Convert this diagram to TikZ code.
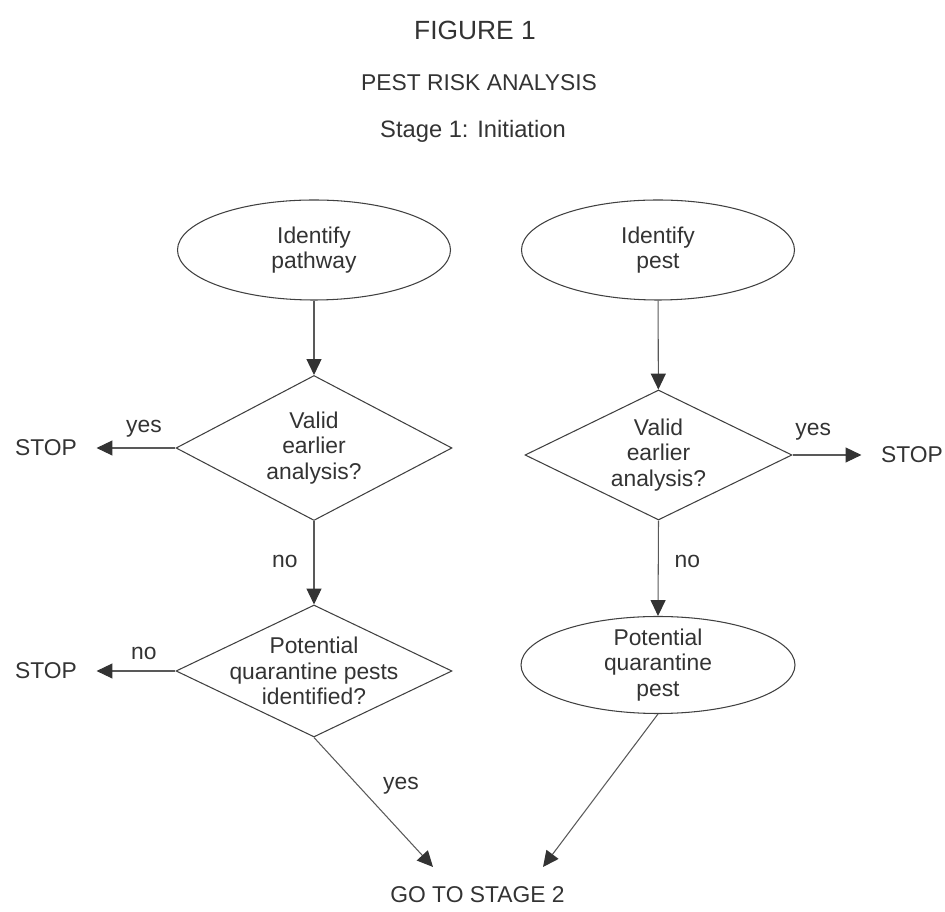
\documentclass[tikz,border=0pt]{standalone}
\usepackage{fontspec}
\setmainfont{Liberation Sans}
\usetikzlibrary{shapes.geometric,arrows.meta,positioning}

\tikzset{
  txt/.style={font=\fontsize{13}{14.5}\selectfont, text=black!80, align=center, inner sep=0pt},
  oval/.style={ellipse, draw=black!75, line width=0.6pt, inner sep=0pt, minimum width=5.46cm, minimum height=2cm},
  decision/.style={diamond, draw=black!75, line width=0.6pt, inner sep=0pt},
  flow/.style={draw=black!65, line width=0.6pt, -{Triangle[length=9pt,width=8.5pt,color=black!80]}},
  stopnode/.style={txt, inner xsep=11pt},
}

\begin{document}
\begin{tikzpicture}
    \useasboundingbox (0,0) rectangle (18.9,18.24);

    % Headings
    \node[txt, font=\fontsize{15}{18}\selectfont] (fig) at (9.5,17.64) {FIGURE 1};
    \node[txt] (title) at (9.58,16.58) {PEST RISK ANALYSIS};
    \node[txt, font=\fontsize{13.5}{16}\selectfont] (stage) at (9.46,15.62) {Stage 1: Initiation};

    % Pathway side
    \node[oval, label={[txt]center:{Identify\\pathway}}] (path) at (6.28,13.24) {};
    \node[decision, minimum width=5.52cm, minimum height=2.9cm,
          label={[txt]center:{Valid\\earlier\\analysis?}}] (validL) at (6.28,9.28) {};
    \node[decision, minimum width=5.52cm, minimum height=2.64cm,
          label={[txt]center:{Potential\\quarantine pests\\identified?}}] (pqpL) at (6.28,4.82) {};
    \node[stopnode] (stopA) at (0.92,9.28) {STOP};
    \node[stopnode] (stopB) at (0.92,4.82) {STOP};

    % Pest side
    \node[oval, label={[txt]center:{Identify\\pest}}] (pest) at (13.16,13.24) {};
    \node[decision, minimum width=5.34cm, minimum height=2.6cm,
          label={[txt]center:{Valid\\earlier\\analysis?}}] (validR) at (13.17,9.14) {};
    \node[oval, minimum width=5.48cm, minimum height=1.94cm,
          label={[txt]center:{Potential\\quarantine\\pest}}] (pqpR) at (13.16,4.94) {};
    \node[stopnode] (stopC) at (18.24,9.14) {STOP};

    % Stage 2
    \node[txt] (go) at (9.55,0.34) {GO TO STAGE 2};
    \coordinate (goL) at (8.66,0.9);
    \coordinate (goR) at (10.86,0.9);

    % Connectors
    \draw[flow] (path) -- (validL);
    \draw[flow] (validL.west) -- node[txt, above=6pt, pos=0.4] (yesA) {yes} (stopA);
    \draw[flow] (validL.south) -- node[txt, left=9pt, pos=0.48] (noA) {no} (pqpL.north);
    \draw[flow] (pqpL.west) -- node[txt, above=6pt, pos=0.4] (noB) {no} (stopB);
    \draw[flow] (pqpL.south) -- node[txt, right=14pt, pos=0.37] (yesB) {yes} (goL);

    \draw[flow] (pest) -- (validR);
    \draw[flow] (validR.east) -- node[txt, above=8pt, pos=0.3] (yesC) {yes} (stopC);
    \draw[flow] (validR.south) -- node[txt, right=9pt, pos=0.43] (noC) {no} (pqpR.north);
    \draw[flow] (pqpR.south) -- (goR);
\end{tikzpicture}
\end{document}
